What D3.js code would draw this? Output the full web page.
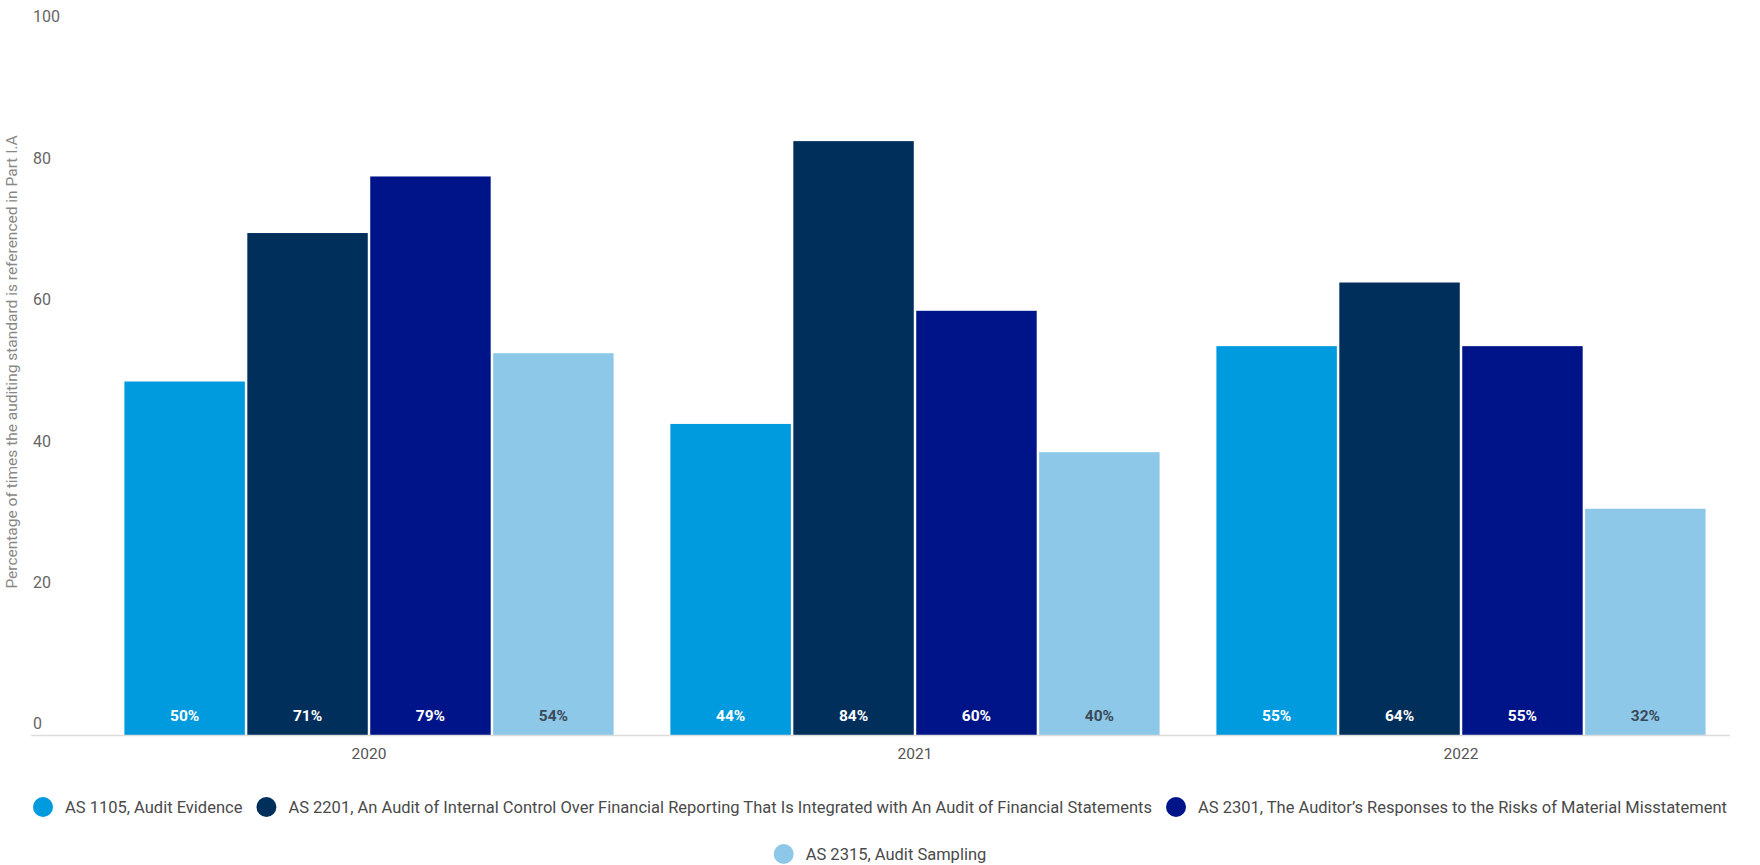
<!DOCTYPE html>
<html>
<head>
<meta charset="utf-8">
<script src="https://cdn.jsdelivr.net/npm/d3@7"></script>
<style>
  body { margin: 0; background: #fff; }
  svg { display: block; font-family: Roboto, "Noto Sans", sans-serif; }
</style>
</head>
<body>
<svg id="chart" width="1760" height="865"></svg>
<script>
// data
const years = ["2020", "2021", "2022"];
const standards = [
  "AS 1105, Audit Evidence",
  "AS 2201, An Audit of Internal Control Over Financial Reporting That Is Integrated with An Audit of Financial Statements",
  "AS 2301, The Auditor\u2019s Responses to the Risks of Material Misstatement",
  "AS 2315, Audit Sampling"
];
const as1105 = [50, 44, 55];
const as2201 = [71, 84, 64];
const as2301 = [79, 60, 55];
const as2315 = [54, 40, 32];
const yTicks = [0, 20, 40, 60, 80, 100];
const colours = ["#009ade", "#002f5c", "#001489", "#8dc8e8"];
const labelColours = ["#ffffff", "#ffffff", "#ffffff", "#3b4a5a"];

const series = [as1105, as2201, as2301, as2315];

let svg = d3.select("#chart");
let width = 1760;

// scales
let x0 = d3.scaleBand()
  .domain(years)
  .range([96, 1734])
  .paddingInner(0.104)
  .paddingOuter(0.052);
let x1 = d3.scaleBand()
  .domain(d3.range(standards.length))
  .range([0, x0.bandwidth()])
  .paddingInner(0.02);
let y = d3.scaleLinear()
  .domain([0, 100])
  .range([735, 28]);

// y tick labels (sit above their values, no gridlines)
let yAxis = d3.axisRight(y).tickValues(yTicks).tickSize(0).tickPadding(0);
let gy = svg.append("g").attr("transform", "translate(33,0)").call(yAxis);
gy.select(".domain").remove();
gy.selectAll("text")
  .attr("dy", "-0.38em")
  .attr("fill", "#666")
  .style("font-size", "16px")
  .style("font-family", "Roboto, sans-serif");

// y title
svg.append("text")
  .attr("transform", "translate(17," + 362 + ") rotate(-90)")
  .attr("text-anchor", "middle")
  .attr("fill", "#888")
  .style("font-size", "15.5px")
  .text("Percentage of times the auditing standard is referenced in Part I.A");

// bars
let groups = svg.selectAll("g.year")
  .data(years)
  .enter()
  .append("g")
  .attr("class", "year")
  .attr("transform", d => "translate(" + x0(d) + ",0)");

groups.selectAll("rect")
  .data((d, i) => series.map((s, k) => ({k: k, v: s[i]})))
  .enter()
  .append("rect")
  .attr("x", d => x1(d.k))
  .attr("y", d => y(d.v))
  .attr("width", x1.bandwidth())
  .attr("height", d => y(0) - y(d.v))
  .attr("fill", d => colours[d.k]);

groups.selectAll("text.val")
  .data((d, i) => series.map((s, k) => ({k: k, v: s[i]})))
  .enter()
  .append("text")
  .attr("class", "val")
  .attr("x", d => x1(d.k) + x1.bandwidth() / 2)
  .attr("y", y(0) - 19)
  .attr("dy", "0.35em")
  .attr("text-anchor", "middle")
  .attr("fill", d => labelColours[d.k])
  .style("font-size", "15.5px")
  .style("font-weight", "bold")
  .text(d => d.v + "%");

// baseline
svg.append("line")
  .attr("x1", 31).attr("x2", 1730)
  .attr("y1", y(0) + 0.5).attr("y2", y(0) + 0.5)
  .attr("stroke", "#dcdcdc")
  .attr("stroke-width", 1.5);

// x axis labels
let xAxis = d3.axisBottom(x0).tickSize(0).tickPadding(13);
let gx = svg.append("g").attr("transform", "translate(0," + y(0) + ")").call(xAxis);
gx.select(".domain").remove();
gx.selectAll("text")
  .attr("fill", "#555")
  .style("font-size", "15.5px")
  .style("font-family", "Roboto, sans-serif");

// legend, centred rows that wrap
let legend = svg.append("g");
let r = 10, gapText = 12, gapItem = 14, maxRow = 1720;
let items = standards.map((s, k) => {
  let g = legend.append("g");
  g.append("circle").attr("r", r).attr("cx", r).attr("cy", 0).attr("fill", colours[k]);
  let t = g.append("text")
    .attr("x", 2 * r + gapText)
    .attr("dy", "0.35em")
    .attr("fill", "#4a4a4a")
    .style("font-size", "16.5px")
    .text(s);
  let w = 2 * r + gapText + t.node().getComputedTextLength();
  return {g: g, w: w};
});
let rows = [[]], rowW = [0];
items.forEach(it => {
  let cur = rows.length - 1;
  let add = (rows[cur].length ? gapItem : 0) + it.w;
  if (rowW[cur] + add > maxRow && rows[cur].length) {
    rows.push([it]); rowW.push(it.w);
  } else {
    rows[cur].push(it); rowW[cur] += add;
  }
});
rows.forEach((row, ri) => {
  let xx = (width - rowW[ri]) / 2;
  row.forEach(it => {
    it.g.attr("transform", "translate(" + xx + "," + (807 + ri * 47) + ")");
    xx += it.w + gapItem;
  });
});
</script>
</body>
</html>
